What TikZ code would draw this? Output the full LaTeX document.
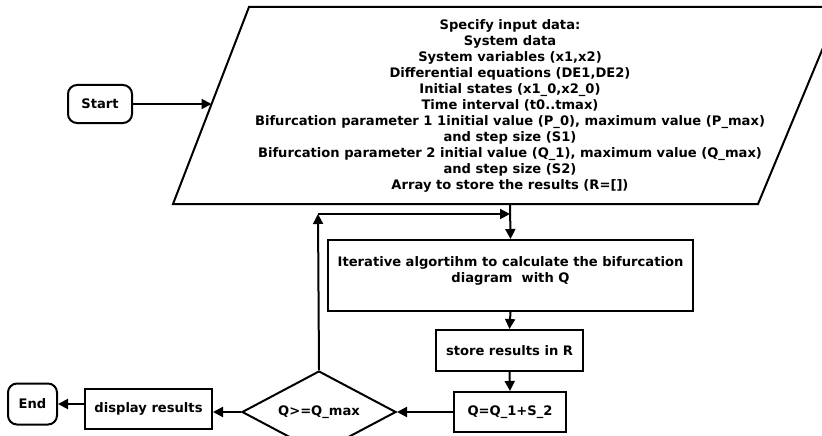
\documentclass[tikz,border=0pt]{standalone}
\usepackage{fontspec}
\setmainfont{DejaVu Sans}
\usetikzlibrary{shapes.geometric,arrows.meta}
\begin{document}
\begin{tikzpicture}[x=1pt,y=-1pt,
  every node/.style={font=\fontsize{13.1}{16}\selectfont\bfseries},
  box/.style={draw,line width=2pt,minimum height=#1,inner sep=0pt},
  term/.style={draw,line width=2pt,rounded corners=9pt,inner sep=0pt},
  link/.style={line width=2pt,-{Triangle[length=10pt,width=10pt]}}]
\useasboundingbox[fill=white] (0,0) rectangle (822,436);
% input parallelogram
\draw[line width=2pt] (249,7) -- (840,7) -- (758,204) -- (173,204) -- cycle;
\node[align=center] (input) at (510,105.5) {Specify input data:\\System data\\System variables (x1,x2)\\Differential equations (DE1,DE2)\\Initial states (x1\_0,x2\_0)\\Time interval (t0..tmax)\\Bifurcation parameter 1 1initial value (P\_0), maximum value (P\_max)\\and step size (S1)\\Bifurcation parameter 2 initial value (Q\_1), maximum value (Q\_max)\\and step size (S2)\\Array to store the results (R=[])};
\coordinate (inL) at (211.5,104);
\coordinate (inB) at (510,204);
\node[term,minimum width=64pt,minimum height=38pt] (start) at (100,104) {Start};
\node[box=71pt,minimum width=365pt,align=center] (iter) at (510.5,275.5) {Iterative algortihm to calculate the bifurcation\\diagram\ \ with Q\\[-5pt]\mbox{}};
\node[box=41pt,minimum width=147pt] (store) at (509.5,350.5) {store results in R};
\node[box=40pt,minimum width=112pt] (qupd) at (510,412) {Q=Q\_1+S\_2};
\node[draw,line width=2pt,diamond,aspect=1.878,minimum width=154pt,minimum height=82pt,inner sep=0pt] (dec) at (319,412) {Q>=Q\_max};
\node[box=40pt,minimum width=127pt] (disp) at (148.5,409) {display results};
\node[term,minimum width=49pt,minimum height=41pt] (end) at (32.5,404) {End};
\coordinate (up) at (318,214);
\coordinate (join) at (510,214);
\draw[link] (start) -- (inL);
\draw[link] (inB) -- (iter.north);
\draw[link] (iter.south) -- (store.north);
\draw[link] (store.south) -- (qupd.north);
\draw[link] (qupd.west) -- (dec.east);
\draw[link] (dec.west) -- (dec.west -| disp.east);
\draw[link] (disp.west |- end.east) -- (end.east);
\draw[link] (dec.north) -- (up);
\draw[link] (up) -- (join);
\end{tikzpicture}
\end{document}
